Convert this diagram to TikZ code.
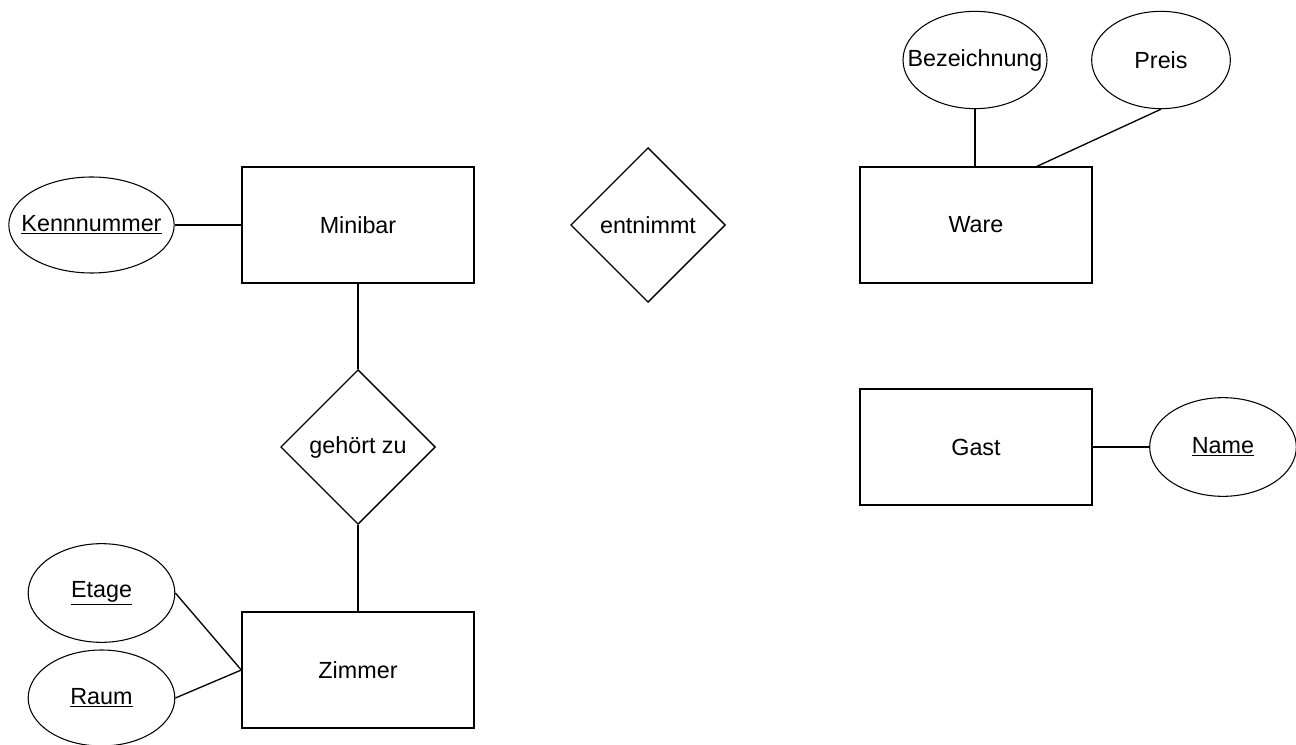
\documentclass[tikz,border=0pt]{standalone}
\usepackage{fontspec}
\setmainfont{Liberation Sans}
\usetikzlibrary{shapes.geometric}
\tikzset{
  every node/.style={font=\fontsize{17.5pt}{20pt}\selectfont, text=black},
  entity/.style={draw, line width=1pt, rectangle, minimum width=174pt, minimum height=87pt, inner sep=0pt},
  attr/.style={draw, line width=0.8pt, ellipse, inner sep=0pt},
  rel/.style={draw, line width=1pt, diamond, minimum width=116pt, minimum height=116pt, inner sep=0pt},
  conn/.style={line width=1pt}
}
\newcommand{\ul}[1]{\underline{#1}}
\newcommand{\zw}[1]{\makebox[0pt]{#1}}
\begin{document}
\begin{tikzpicture}[x=0.75pt, y=-0.75pt]
\useasboundingbox (0,0) rectangle (1296,745);
% entities
\node[entity] (Minibar) at (358,225) {Minibar};
\node[entity] (Ware) at (976,225) {Ware};
\node[entity] (Gast) at (976,447) {Gast};
\node[entity] (Zimmer) at (358,670) {Zimmer};
% relationships
\node[rel] (entnimmt) at (648,225) {entnimmt};
\node[rel] (gehoert) at (358,447) {gehört zu};
% attributes
\node[attr, minimum width=124pt, minimum height=72pt] (Kenn) at (91.5,225) {\zw{\ul{Kennnummer}}};
\node[attr, minimum width=108pt, minimum height=73pt] (Bez) at (975,60) {\zw{Bezeichnung}};
\node[attr, minimum width=104pt, minimum height=73pt] (Preis) at (1161,60) {\zw{Preis}};
\node[attr, minimum width=110pt, minimum height=74pt] (Name) at (1223,447) {\zw{\ul{Name}}};
\node[attr, minimum width=110pt, minimum height=74pt] (Etage) at (101.5,593) {\zw{\ul{Etage}}};
\node[attr, minimum width=110pt, minimum height=72pt] (Raum) at (101.5,698) {\zw{\ul{Raum}}};
% connectors
\coordinate (wp) at ([xshift=45.75pt]Ware.north);
\draw[conn] (Kenn.east) -- (Minibar.west);
\draw[conn] (Bez.south) -- (Bez.south |- Ware.north);
\draw[conn] (Preis.south) -- (wp);
\draw[conn] (Gast.east) -- (Name.west);
\draw[conn] (Minibar.south) -- (gehoert.north);
\draw[conn] (gehoert.south) -- (Zimmer.north);
\draw[conn] (Etage.east) -- (Zimmer.west);
\draw[conn] (Raum.east) -- (Zimmer.west);
\end{tikzpicture}
\end{document}
